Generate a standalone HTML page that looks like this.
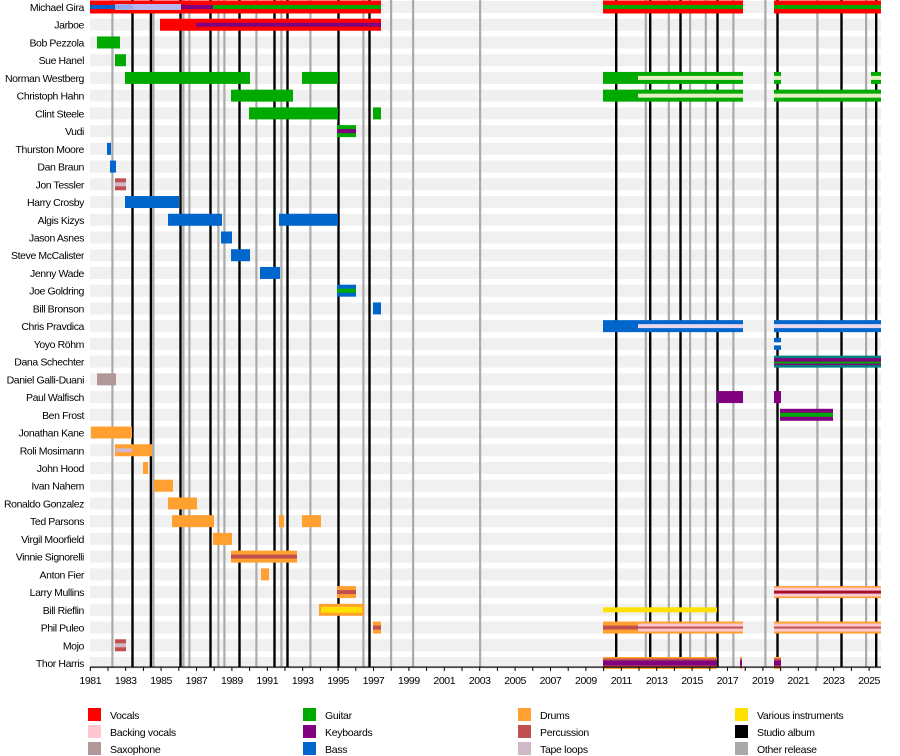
<!DOCTYPE html>
<html><head><meta charset="utf-8"><style>
html,body{margin:0;padding:0;background:#fff;}
svg{display:block;font-family:"Liberation Sans",sans-serif;}
</style></head><body>
<svg id="s" width="900" height="756" xmlns="http://www.w3.org/2000/svg"></svg>
<script>
const s=document.getElementById('s');let h='';
const names=["Michael Gira","Jarboe","Bob Pezzola","Sue Hanel","Norman Westberg","Christoph Hahn","Clint Steele","Vudi","Thurston Moore","Dan Braun","Jon Tessler","Harry Crosby","Algis Kizys","Jason Asnes","Steve McCalister","Jenny Wade","Joe Goldring","Bill Bronson","Chris Pravdica","Yoyo Röhm","Dana Schechter","Daniel Galli-Duani","Paul Walfisch","Ben Frost","Jonathan Kane","Roli Mosimann","John Hood","Ivan Nahem","Ronaldo Gonzalez","Ted Parsons","Virgil Moorfield","Vinnie Signorelli","Anton Fier","Larry Mullins","Bill Rieflin","Phil Puleo","Mojo","Thor Harris"];
const P=17.73;const cy=i=>7+i*P;
names.forEach((n,i)=>{h+=`<rect x="90" y="${cy(i)-6}" width="791" height="12" fill="#f0f0f0"/>`;
h+=`<text x="84" y="${cy(i)+4}" font-size="10.5" text-anchor="end" letter-spacing="-0.4" fill="#000">${n}</text>`;});
const gray=[112.3,153.3,183.3,189.3,218.3,224.3,256.3,281.3,310.3,363.3,391,413,480,645.7,668.7,690,705.7,733.3,765.3,817.3,866];
const black=[132.3,150.7,180.3,210.3,239.3,274.3,287.3,338.3,369.3,616,650,680.3,717.3,777.3,841.3,876];
gray.forEach(x=>h+=`<rect x="${x-1}" y="0" width="2.2" height="667" fill="#aaa"/>`);
black.forEach(x=>h+=`<rect x="${x-1}" y="0" width="2.4" height="667" fill="#000"/>`);
const C={v:"#ff0000",bv:"#ffc8d0",sx:"#b09898",g:"#00aa00",k:"#800080",b:"#0066cc",d:"#ffa030",p:"#c05050",t:"#d0b8c8",y:"#ffe000",lg:"#e4f0c4",lb:"#e8d8ee",tl:"#008080",lv:"#b8b8f0"};
function bar(i,x1,x2,c,hh=12,off=0){h+=`<rect x="${x1}" y="${cy(i)-hh/2+off}" width="${x2-x1}" height="${hh}" fill="${c}"/>`;}
bar(0,90,381,C.v,13);bar(0,90,115,C.b,4);bar(0,115,181,C.lv,6);bar(0,115,133,"#9aa8e8",5);bar(0,181,213,C.k,4);bar(0,213,381,C.g,4);
bar(0,603,743,C.v,13);bar(0,603,743,C.g,4);bar(0,774,881,C.v,13);bar(0,774,881,C.g,4);
bar(1,160,381,C.v);bar(1,196,381,C.k,4);
bar(2,97,120,C.g);bar(3,115,126,C.g);
bar(4,125,250,C.g);bar(4,302,338,C.g);bar(4,603,743,C.g);bar(4,638,743,C.lg,4);bar(4,774,781,C.g);bar(4,774,781,C.lg,4);bar(4,871,881,C.g);bar(4,871,881,C.lg,4);
bar(5,231,293,C.g);bar(5,603,743,C.g);bar(5,638,743,C.lg,4);bar(5,774,881,C.g);bar(5,774,881,C.lg,4);
bar(6,249,338,C.g);bar(6,373,381,C.g);
bar(7,337,356,C.g);bar(7,337,356,C.k,4);
bar(8,107,111,C.b);bar(9,110,116,C.b);
bar(10,115,126,C.p);bar(10,115,126,C.t,4);
bar(11,125,179,C.b);bar(12,168,222,C.b);bar(12,279,338,C.b);
bar(13,221,232,C.b);bar(14,231,250,C.b);bar(15,260,280,C.b);
bar(16,337,356,C.b);bar(16,337,356,C.g,4);bar(17,373,381,C.b);
bar(18,603,743,C.b);bar(18,638,743,C.lb,4);bar(18,774,881,C.b);bar(18,774,881,C.lb,4);
bar(19,774,781,C.b);bar(19,774,781,"#fff",3);
bar(20,774,881,C.tl);bar(20,774,881,C.k,7);bar(20,774,881,C.g,2,1);
bar(21,97,116,C.sx);
bar(22,717,743,C.k);bar(22,774,781,C.k);
bar(23,780,833,C.k);bar(23,780,833,C.g,4);
bar(24,91,132,C.d);bar(25,115,152,C.d);bar(25,116,132,C.t,4);
bar(26,143,148,C.d);bar(27,154,173,C.d);bar(28,168,197,C.d);
bar(29,172,214,C.d);bar(29,279,284,C.d);bar(29,302,321,C.d);
bar(30,213,232,C.d);bar(31,231,297,C.d);bar(31,231,297,C.p,4);
bar(32,261,269,C.d);
bar(33,337,356,C.d);bar(33,337,356,C.p,4);bar(33,774,881,C.d);bar(33,774,881,C.bv,9);bar(33,774,881,"#a01030",3);
bar(34,319,364,C.d);bar(34,321,362,C.y,6);bar(34,603,717,C.y,5);
bar(35,373,381,C.d);bar(35,373,381,C.p,4);bar(35,603,743,C.d);bar(35,603,638,C.p,4);bar(35,638,743,C.bv,8);bar(35,638,743,C.p,2);
bar(35,774,881,C.d);bar(35,774,881,C.bv,8);bar(35,774,881,C.p,2);
bar(36,115,126,C.p);bar(36,115,126,C.t,4);
[[603,717],[740,742],[774,781]].forEach(([a,b])=>{bar(37,a,b,C.d);bar(37,a,b,C.p,9);bar(37,a,b,C.k,5);});
h+=`<rect x="90" y="666.5" width="791" height="1.2" fill="#000"/>`;
for(let y=1981;y<=2025;y++){const x=90.3+(y-1981)*17.7;h+=`<rect x="${x-0.5}" y="667" width="1" height="4" fill="#000"/>`;
if(y%2==1)h+=`<text x="${x}" y="684" font-size="10.5" text-anchor="middle" letter-spacing="-0.4">${y}</text>`;}
const L=[["Vocals",C.v],["Backing vocals",C.bv],["Saxophone",C.sx],["Guitar",C.g],["Keyboards",C.k],["Bass",C.b],["Drums",C.d],["Percussion",C.p],["Tape loops",C.t],["Various instruments",C.y],["Studio album","#000"],["Other release","#aaa"]];
const cx=[88,303,518,735];
L.forEach(([t,c],k)=>{const col=Math.floor(k/3),r=k%3;const x=cx[col],y=708+r*17;
h+=`<rect x="${x}" y="${y}" width="13" height="13" fill="${c}"/><text x="${x+22}" y="${y+11}" font-size="10.5" letter-spacing="-0.3">${t}</text>`;});
s.innerHTML=h;
</script>
</body></html>
